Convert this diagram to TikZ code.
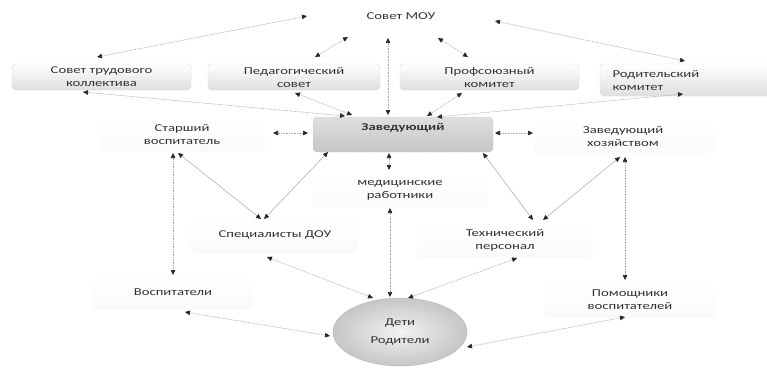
\documentclass[tikz,border=0pt]{standalone}
\usepackage{fontspec}
\setmainfont{Carlito}[FakeStretch=1.4]
\usetikzlibrary{arrows.meta,shapes.geometric}
\begin{document}
\begin{tikzpicture}[x=1pt,y=-1pt,
  font=\fontsize{10.5}{13}\selectfont,
  >={Triangle[length=5pt,width=4.5pt,color=black!85]},
  txt/.style={text=black!80, align=center, inner sep=0pt},
  topbox/.style={rounded corners=4pt, draw=gray!30, top color=white, bottom color=gray!25,
    minimum height=26pt, align=center, text=black!80, inner sep=0pt},
  zavbox/.style={rounded corners=4pt, draw=gray!60, densely dotted, top color=gray!25, bottom color=gray!45,
    minimum width=180pt, minimum height=35pt, inner sep=0pt},
  faint/.style={rounded corners=4pt, top color=white, bottom color=gray!4,
    align=center, text=black!80, inner sep=0pt},
  ghost/.style={minimum width=190pt, minimum height=32pt, inner sep=0pt},
  oval/.style={ellipse, draw=gray!55, inner color=gray!10, outer color=gray!45,
    minimum width=134pt, minimum height=68pt, align=center, text=black!80, inner sep=0pt},
  arr/.style={<->, draw=gray!70, line width=0.6pt, dash pattern=on 0.8pt off 0.8pt},
  arrs/.style={<->, draw=gray!60, line width=0.6pt}
]
\useasboundingbox (0,0) rectangle (767,369);
\fill[white] (0,0) rectangle (767,369);

% top row
\node[ghost] (mou) at (401,22) {};
\node[txt] (moutxt) at (401,16) {Совет МОУ};
\node[topbox, minimum width=179pt] (stk) at (101.5,77) {Совет трудового\\коллектива};
\node[topbox, minimum width=172pt] (ped) at (294,77) {Педагогический\\совет};
\node[topbox, minimum width=179pt] (prof) at (489.5,77) {Профсоюзный\\комитет};
\node[topbox, minimum width=175pt, minimum height=32pt, text width=150pt, align=left, inner xsep=12.5pt] (rod) at (687.5,80) {Родительский\\комитет};

% middle row
\node[zavbox] (zav) at (403,134.5) {};
\node[txt, font=\fontsize{10.5}{13}\selectfont\bfseries] (zavtxt) at (403,128) {Заведующий};
\node[faint, minimum width=165pt, minimum height=35pt] (st) at (182,134.5) {Старший\\воспитатель};
\node[faint, minimum width=180pt, minimum height=33pt] (zh) at (623,136.5) {Заведующий\\хозяйством};
\node[faint, minimum width=175pt, minimum height=36pt] (med) at (400,190) {медицинские\\работники};
\node[faint, minimum width=167pt, minimum height=36pt] (spec) at (275,235) {Специалисты ДОУ};
\node[faint, minimum width=175pt, minimum height=36pt] (tech) at (505,240) {Технический\\персонал};
\node[faint, minimum width=160pt, minimum height=36pt] (vosp) at (173,292) {Воспитатели};
\node[faint, minimum width=172pt, minimum height=36pt] (pom) at (630,300) {Помощники\\воспитателей};
\node[oval] (deti) at (400,332) {Дети\\[5pt]Родители};

% connectors from Совет МОУ
\draw[arr] ([shift={(-94,-6)}]mou.center) -- ([shift={(-4.5,-20)}]stk.center);
\draw[arr] ([shift={(-53,15)}]mou.center) -- ([shift={(21,-20)}]ped.center);
\draw[arr] ([shift={(-13,16)}]mou.center) -- ([shift={(-15,-19.5)}]zav.center);
\draw[arr] ([shift={(37,16)}]mou.center) -- ([shift={(-21.5,-20)}]prof.center);
\draw[arr] ([shift={(94,-1)}]mou.center) -- ([shift={(-2.5,-19)}]rod.center);

% top row to Заведующий
\draw[arr] ([shift={(-18.5,15)}]stk.center) -- ([shift={(-58,-18.5)}]zav.center);
\draw[arr] ([shift={(1,16)}]ped.center) -- ([shift={(-51,-19.5)}]zav.center);
\draw[arr] ([shift={(-27.5,16)}]prof.center) -- ([shift={(24,-18.5)}]zav.center);
\draw[arr] ([shift={(-4.5,14)}]rod.center) -- ([shift={(34,-17.5)}]zav.center);

% middle level
\draw[arr] ([shift={(91,-1.5)}]st.center) -- ([shift={(-95,-1.5)}]zav.center);
\draw[arr] ([shift={(92,-1.5)}]zav.center) -- ([shift={(-90,-3.5)}]zh.center);
\draw[arr] ([shift={(-14,18.5)}]zav.center) -- ([shift={(-11,-20)}]med.center);
\draw[arrs] ([shift={(-75,17.5)}]zav.center) -- ([shift={(-11,-16)}]spec.center);
\draw[arrs] ([shift={(-4,18.5)}]st.center) -- ([shift={(-14,-16)}]spec.center);
\draw[arr] ([shift={(-9,18.5)}]st.center) -- ([shift={(0,-17)}]vosp.center);
\draw[arrs] ([shift={(80,18.5)}]zav.center) -- ([shift={(28,-20)}]tech.center);
\draw[arrs] ([shift={(-3,20.5)}]zh.center) -- ([shift={(38,-20)}]tech.center);
\draw[arr] ([shift={(2,20.5)}]zh.center) -- ([shift={(-5,-20)}]pom.center);

% to Дети Родители
\draw[arr] ([shift={(-10,18)}]med.center) -- ([shift={(-10,-35)}]deti.center);
\draw[arr] ([shift={(-8,22)}]spec.center) -- ([shift={(-27,-34)}]deti.center);
\draw[arr] ([shift={(12,18)}]tech.center) -- ([shift={(8,-34)}]deti.center);
\draw[arr] ([shift={(12,20)}]vosp.center) -- ([shift={(-70,4)}]deti.center);
\draw[arr] ([shift={(-5,17)}]pom.center) -- ([shift={(67,15)}]deti.center);
\end{tikzpicture}
\end{document}
